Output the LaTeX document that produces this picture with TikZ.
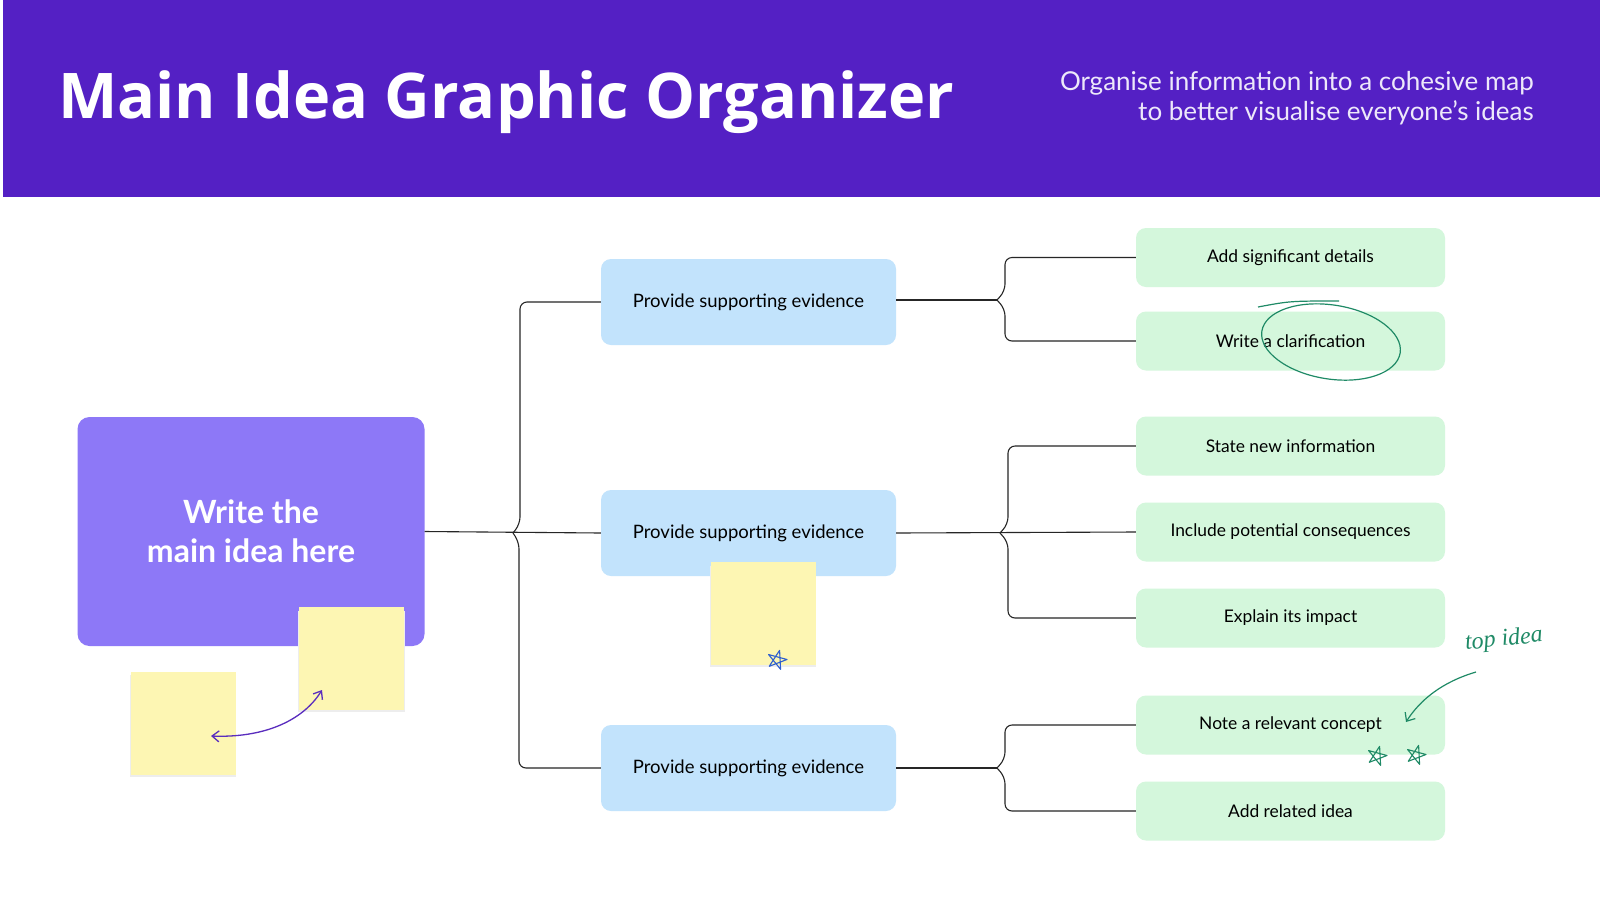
\documentclass[tikz,border=0pt]{standalone}
\usepackage{fontspec}
\setmainfont{Lato}
\newfontfamily\titlefont{Open Sans}
\newfontfamily\handfont{Liberation Serif}
\usetikzlibrary{arrows.meta}

\definecolor{headpurple}{HTML}{5420C4}
\definecolor{mainpurple}{HTML}{8D78F7}
\definecolor{evblue}{HTML}{C2E3FC}
\definecolor{detgreen}{HTML}{D4F7DC}
\definecolor{notey}{HTML}{FDF6B3}
\definecolor{inkteal}{HTML}{1F8A66}
\definecolor{inkblue}{HTML}{2F5FCF}
\definecolor{inkpurple}{HTML}{5A2DBE}
\definecolor{subtext}{HTML}{EDE8FA}

\tikzset{
  doodle/.pic={\draw[line width=1.1pt, line join=round, line cap=round]
    (270:10) -- (54:10) -- (198:10) -- (-18:10) -- (126:10) -- cycle;}
}

\begin{document}
\begin{tikzpicture}[x=1pt, y=-1pt,
    mainbox/.style={rectangle, rounded corners=12pt, fill=mainpurple, text=white, align=center, minimum width=347pt, minimum height=229pt, font=\fontsize{32}{39}\selectfont\bfseries},
    evidence/.style={rectangle, rounded corners=10pt, fill=evblue, minimum width=295pt, minimum height=86pt, font=\fontsize{18.5}{21}\selectfont},
    detail/.style={rectangle, rounded corners=10pt, fill=detgreen, minimum width=309pt, minimum height=59pt, font=\fontsize{17.4}{20}\selectfont},
    sticky/.style={rectangle, fill=notey, minimum width=105pt, minimum height=103pt},
    shade/.style={fill=black!7},
    link/.style={draw=black!85, line width=1.1pt, rounded corners=7pt}
  ]
  \useasboundingbox (0,0) rectangle (1600,900);
  \fill[white] (0,0) rectangle (1600,900);

  % Header band
  \fill[headpurple] (3,0) rectangle (1600,197);
  \node[anchor=base west, text=white, inner sep=0pt, font=\titlefont\fontsize{63}{66}\selectfont\bfseries] (title) at (58,118) {Main Idea Graphic Organizer};
  \node[anchor=east, align=right, text=subtext, inner sep=0pt, font=\fontsize{26}{30}\selectfont] (subtitle) at (1534,98) {Organise information into a cohesive map\\to better visualise everyone's ideas};

  % Main idea
  \node[mainbox] (main) at (251,531.5) {Write the\\main idea here};

  % Supporting evidence
  \node[evidence] (ev1) at (748.5,302) {Provide supporting evidence};
  \node[evidence] (ev2) at (748.5,533) {Provide supporting evidence};
  \node[evidence] (ev3) at (748.5,768) {Provide supporting evidence};

  % Details
  \node[detail] (d1) at (1290.5,257.5) {Add significant details};
  \node[detail] (d2) at (1290.5,341) {Write a clarification};
  \node[detail] (d3) at (1290.5,446) {State new information};
  \node[detail] (d4) at (1290.5,532) {Include potential consequences};
  \node[detail] (d5) at (1290.5,618) {Explain its impact};
  \node[detail] (d6) at (1290.5,725) {Note a relevant concept};
  \node[detail] (d7) at (1290.5,811) {Add related idea};

  % Junction points
  \coordinate (jm) at (513,533);
  \coordinate (jmup) at (520,524);
  \coordinate (jmdn) at (519,542);
  \coordinate (ja) at (997,300);
  \coordinate (jaup) at (1005,291);
  \coordinate (jadn) at (1005,309);
  \coordinate (jb) at (1000,533);
  \coordinate (jbup) at (1008,524);
  \coordinate (jbdn) at (1008,542);
  \coordinate (jc) at (997,768);
  \coordinate (jcup) at (1005,759);
  \coordinate (jcdn) at (1005,777);

  % Connectors
  \draw[link] (main.east) -- (ev2.west);
  \draw[link] (ev1.west) -| (jmup) -- (jm);
  \draw[link] (ev3.west) -| (jmdn) -- (jm);
  \draw[link] (ev1.east |- ja) -- (ja);
  \draw[link] (d1.west) -| (jaup) -- (ja);
  \draw[link] (d2.west) -| (jadn) -- (ja);
  \draw[link] (ev2.east) -- (d4.west);
  \draw[link] (d3.west) -| (jbup) -- (jb);
  \draw[link] (d5.west) -| (jbdn) -- (jb);
  \draw[link] (ev3.east) -- (jc);
  \draw[link] (d6.west) -| (jcup) -- (jc);
  \draw[link] (d7.west) -| (jcdn) -- (jc);

  % Sticky notes
  \fill[shade] (710,566) rectangle (816,667);
  \node[sticky] (note1) at (763,613.5) {};
  \fill[shade] (130,675) rectangle (236,777);
  \node[sticky] (note2) at (183,723) {};
  \fill[shade] (298,611) rectangle (405,712);
  \node[sticky] (note3) at (351.5,658.5) {};

  % Doodles
  \pic[inkblue, rotate=-15] at (777,660) {doodle};
  \pic[inkteal, rotate=-15] at (1377,756) {doodle};
  \pic[inkteal, rotate=-15] at (1416,755) {doodle};

  \coordinate (swapa) at (211,736);
  \coordinate (swapb) at (322,690);
  \draw[inkpurple, line width=1.3pt, {Straight Barb[length=7pt,width=11pt]}-{Straight Barb[length=7pt,width=11pt]}] (swapa) .. controls (262,738) and (302,722) .. (swapb);

  \draw[inkteal, line width=1.2pt, rotate around={-9:(1331,342)}] (1331,342) ellipse [x radius=70, y radius=37];
  \draw[inkteal, line width=1.2pt] (1258,307) .. controls (1290,301) .. (1339,301);

  \node[inkteal, rotate=6, font=\handfont\itshape\fontsize{24}{26}\selectfont] (topidea) at (1504,640) {top idea};
  \coordinate (topend) at (1406,722);
  \draw[inkteal, line width=1.2pt, -{Straight Barb[length=7pt,width=12pt]}] (1476,672) .. controls (1442,682) and (1420,700) .. (topend);
\end{tikzpicture}
\end{document}
